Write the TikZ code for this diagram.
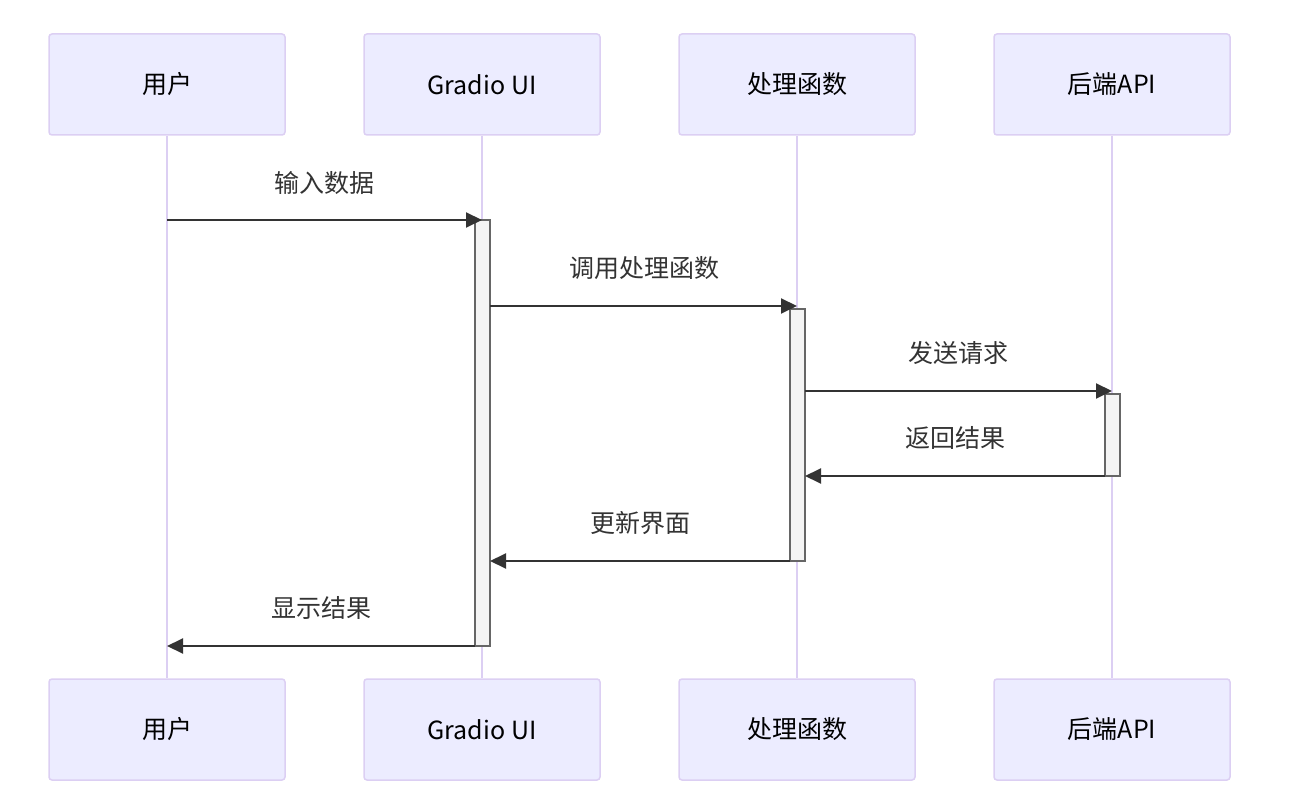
\documentclass[tikz,border=0pt]{standalone}
\usepackage{fontspec}
\setmainfont{Noto Sans CJK SC}
\usetikzlibrary{arrows.meta}
\definecolor{actfill}{HTML}{ECECFF}
\definecolor{actline}{HTML}{DCCFF3}
\definecolor{msgcol}{HTML}{333333}
\definecolor{barfill}{HTML}{F4F4F4}
\definecolor{barline}{HTML}{666666}
\tikzset{
  actor/.style={draw=actline, fill=actfill, line width=1.5pt, rounded corners=3pt,
    minimum width=236pt, minimum height=101pt, inner sep=0pt,
    font=\fontsize{25}{30}\selectfont, text=black},
  lifeline/.style={draw=actline, line width=2pt},
  bar/.style={draw=barline, fill=barfill, line width=1.2pt, minimum width=15pt, inner sep=0pt},
  msg/.style={draw=msgcol, line width=2pt, -{Triangle[length=16pt,width=15pt]}},
  msglabel/.style={font=\fontsize{25}{30}\selectfont, text=msgcol}
}
\begin{document}
\begin{tikzpicture}[x=1pt, y=-1pt]
\useasboundingbox (0,0) rectangle (1296,802);
% actors top and bottom
\node[actor] (userT) at (167,84.5) {用户};
\node[actor] (uiT) at (482,84.5) {Gradio UI};
\node[actor] (fnT) at (797,84.5) {处理函数};
\node[actor] (apiT) at (1112,84.5) {后端API};
\node[actor] (userB) at (167,729.5) {用户};
\node[actor] (uiB) at (482,729.5) {Gradio UI};
\node[actor] (fnB) at (797,729.5) {处理函数};
\node[actor] (apiB) at (1112,729.5) {后端API};
% lifelines
\draw[lifeline] (userT.south) -- (userB.north);
\draw[lifeline] (uiT.south) -- (uiB.north);
\draw[lifeline] (fnT.south) -- (fnB.north);
\draw[lifeline] (apiT.south) -- (apiB.north);
% activations
\node[bar, minimum height=426pt] (uiBar) at (482.5,433) {};
\node[bar, minimum height=252pt] (fnBar) at (797.5,435) {};
\node[bar, minimum height=82pt] (apiBar) at (1112.5,435) {};
% message ends
\coordinate (u1) at (167,220);
\coordinate (i1) at (482,220);
\coordinate (i2) at (490,306);
\coordinate (f2) at (797,306);
\coordinate (f3) at (805,391);
\coordinate (a3) at (1112,391);
\coordinate (a4) at (1105,476);
\coordinate (f4) at (805,476);
\coordinate (f5) at (790,561);
\coordinate (i5) at (490,561);
\coordinate (i6) at (475,646);
\coordinate (u6) at (167,646);
% messages
\draw[msg] (u1) -- (i1);
\draw[msg] (i2) -- (f2);
\draw[msg] (f3) -- (a3);
\draw[msg] (a4) -- (f4);
\draw[msg] (f5) -- (i5);
\draw[msg] (i6) -- (u6);
\node[msglabel] (l1) at (324,183) {输入数据};
\node[msglabel] (l2) at (644,268) {调用处理函数};
\node[msglabel] (l3) at (958,353) {发送请求};
\node[msglabel] (l4) at (955,438) {返回结果};
\node[msglabel] (l5) at (640,523) {更新界面};
\node[msglabel] (l6) at (321,608) {显示结果};
\end{tikzpicture}
\end{document}
